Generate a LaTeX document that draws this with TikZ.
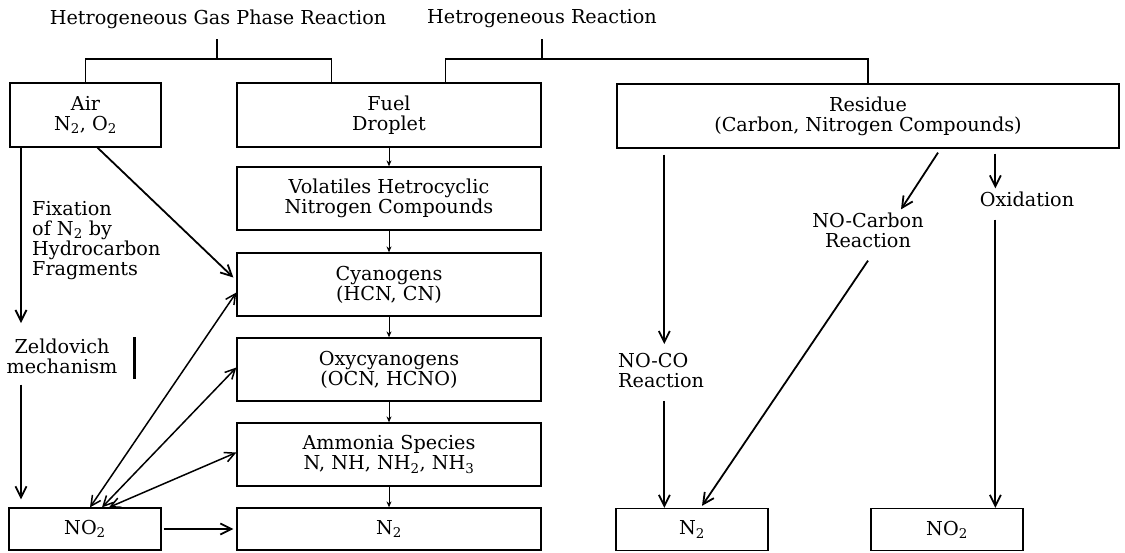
\documentclass[tikz,border=0pt]{standalone}
\usepackage{fontspec}
\setmainfont{DejaVu Serif}
\usetikzlibrary{arrows.meta}

\begin{document}
\begin{tikzpicture}[x=1pt, y=-1pt,
	every node/.style={font=\fontsize{19.2}{20}\selectfont, inner sep=0pt},
	box/.style={draw, line width=1.3pt, minimum height=64pt, align=center},
	lowbox/.style={draw, line width=1.3pt, minimum width=152pt, minimum height=42pt},
	bracket/.style={line width=1.2pt},
	arr/.style={line width=1.8pt, -{Straight Barb[length=11pt,width=11pt]}},
	dblarr/.style={line width=1.5pt, {Straight Barb[length=10pt,width=10pt]}-{Straight Barb[length=10pt,width=10pt]}},
	thinarr/.style={line width=1pt, -{Stealth[length=6pt,width=5pt]}}]
	\useasboundingbox (0,0) rectangle (1125,552);

	% titles
	\node (gasphase) at (218,19) {Hetrogeneous Gas Phase Reaction};
	\node (hetreac) at (542,19) {Hetrogeneous Reaction};

	% boxes
	\node[box, minimum width=151pt] (air) at (85.5,115) {Air\\N\textsubscript{2}, O\textsubscript{2}};
	\node[box, minimum width=304pt] (fuel) at (389,115) {Fuel\\Droplet};
	\node[box, minimum width=502pt] (residue) at (868,116) {Residue\\(Carbon, Nitrogen Compounds)};
	\node[box, minimum width=304pt, minimum height=63pt] (volatiles) at (389,198.5) {Volatiles Hetrocyclic\\Nitrogen Compounds};
	\node[box, minimum width=304pt, minimum height=63pt] (cyano) at (389,284.5) {Cyanogens\\(HCN, CN)};
	\node[box, minimum width=304pt, minimum height=63pt] (oxy) at (389,369.5) {Oxycyanogens\\(OCN, HCNO)};
	\node[box, minimum width=304pt, minimum height=63pt] (ammonia) at (389,454.5) {Ammonia Species\\N, NH, NH\textsubscript{2}, NH\textsubscript{3}};
	\node[lowbox, minimum width=304pt] (ntwo) at (389,529) {N\textsubscript{2}};
	\node[lowbox] (notwo) at (85,529) {NO\textsubscript{2}};
	\node[lowbox] (ntwoR) at (692,529.5) {N\textsubscript{2}};
	\node[lowbox] (notwoR) at (947,529.5) {NO\textsubscript{2}};

	% brackets
	\coordinate (b1) at (217,59);
	\coordinate (b2) at (542,59);
	\draw[bracket] (b1) -- ++(0,-20);
	\draw[bracket] (b2) -- ++(0,-20);
	\draw[bracket] (air.north) |- (b1) -| ([xshift=95]fuel.north west);
	\draw[bracket] ([xshift=209]fuel.north west) |- (b2) -| (residue.north);

	% fuel column
	\foreach \a/\b in {fuel/volatiles, volatiles/cyano, cyano/oxy, oxy/ammonia, ammonia/ntwo}
		\draw[thinarr] (\a) -- (\b);

	% left side
	\coordinate (fixend) at (21,323);
	\draw[arr] (air.south west -| fixend) -- (fixend);
	\node[anchor=north west, align=left] (fixation) at (32,201) {Fixation\\of N\textsubscript{2} by\\Hydrocarbon\\Fragments};
	\node[align=center] (zeld) at (62,356) {Zeldovich\\mechanism};
	\draw[line width=3pt] (134,337) -- (134,379);
	\draw[arr] ([yshift=-11]zeld.south -| fixend) -- ([yshift=8]notwo.north west -| fixend);
	\draw[arr] ([xshift=12]air.south) -- ([xshift=-3,yshift=7]cyano.west);
	\draw[dblarr] ([xshift=5]notwo.north) -- ([yshift=-8]cyano.west);
	\draw[dblarr] ([xshift=17]notwo.north) -- ([yshift=2]oxy.west);
	\draw[dblarr] ([xshift=24]notwo.north) -- ([yshift=2]ammonia.west);
	\draw[arr, shorten <=2pt, shorten >=3pt] (notwo) -- (ntwo);

	% right side
	\coordinate (rs1) at ([xshift=48,yshift=-6]residue.south west);
	\coordinate (rs3) at ([xshift=379,yshift=-5]residue.south west);
	\node[anchor=north west, align=left] (noco) at (618,353) {NO-CO\\Reaction};
	\node[align=center] (nocarbon) at (868,230) {NO-Carbon\\Reaction};
	\node (oxidation) at (1027,199) {Oxidation};
	\draw[arr] (rs1) -- ([yshift=9]rs1 |- noco.north);
	\draw[arr] ([yshift=-13]rs1 |- noco.south) -- (rs1 |- ntwoR.north);
	\draw[arr] ([xshift=70,yshift=-4]residue.south) -- ([xshift=33,yshift=3]nocarbon.north);
	\draw[arr] ([yshift=-13]nocarbon.south) -- ([xshift=10,yshift=2]ntwoR.north);
	\draw[arr] (rs3) -- ([yshift=3]rs3 |- oxidation.north);
	\draw[arr] ([yshift=-13]rs3 |- oxidation.south) -- (rs3 |- notwoR.north);
\end{tikzpicture}
\end{document}
